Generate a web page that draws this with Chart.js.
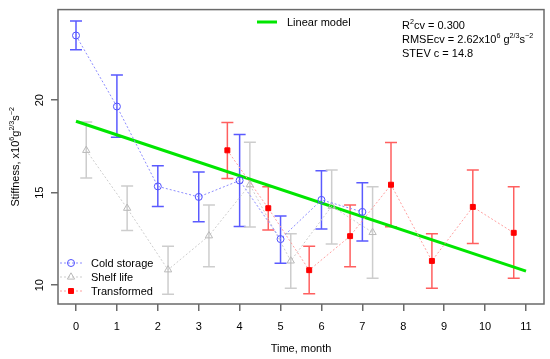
<!DOCTYPE html>
<html>
<head>
<meta charset="utf-8">
<script src="https://cdn.jsdelivr.net/npm/chart.js@4/dist/chart.umd.min.js"></script>
<style>
  html, body { margin: 0; padding: 0; background: #fff; }
  #wrap { width: 550px; height: 359px; }
</style>
</head>
<body>
<div id="wrap"><canvas id="chart" width="550" height="359"></canvas></div>
<script>
// data
const coldX = [0, 1, 2, 3, 4, 5, 6, 7];
const coldY = [23.5, 19.66, 15.34, 14.77, 15.66, 12.49, 14.61, 13.96];
const coldLo = [22.73, 18.0, 14.25, 13.43, 13.17, 11.19, 13.03, 12.39];
const coldHi = [24.29, 21.36, 16.46, 16.12, 18.14, 13.74, 16.18, 15.53];

const shelfX = [0.25, 1.25, 2.25, 3.25, 4.25, 5.25, 6.25, 7.25];
const shelfY = [17.29, 14.16, 10.83, 12.67, 15.43, 11.31, 14.27, 12.85];
const shelfLo = [15.79, 12.96, 9.51, 10.99, 13.14, 9.83, 12.22, 10.37];
const shelfHi = [18.82, 15.36, 12.10, 14.34, 17.73, 12.78, 16.23, 15.32];

const transX = [3.7, 4.7, 5.7, 6.7, 7.7, 8.7, 9.7, 10.7];
const transY = [17.29, 14.16, 10.81, 12.65, 15.43, 11.31, 14.23, 12.83];
const transLo = [15.77, 12.98, 9.53, 10.99, 13.16, 9.83, 12.25, 10.37];
const transHi = [18.80, 15.32, 12.10, 14.34, 17.72, 12.78, 16.23, 15.32];

const fitX = [0, 11];
const fitY = [18.86, 10.76];

const xTicks = [0, 1, 2, 3, 4, 5, 6, 7, 8, 9, 10, 11];
const yTicks = [10, 15, 20];

const FONT = "'Liberation Sans', Arial, Helvetica, sans-serif";
const FS = 11;
const pts = (xs, ys) => xs.map((x, i) => ({ x, y: ys[i] }));

const series = [
  { label: "Cold storage", xs: coldX, ys: coldY, lo: coldLo, hi: coldHi,
    bar: "rgba(90,90,255,1)", line: "rgba(140,140,255,1)", style: "circle",
    fill: "rgba(0,0,0,0)", mark: "rgba(80,80,255,1)", r: 3.5 },
  { label: "Shelf life", xs: shelfX, ys: shelfY, lo: shelfLo, hi: shelfHi,
    bar: "rgba(205,205,205,1)", line: "rgba(205,205,205,1)", style: "triangle",
    fill: "rgba(0,0,0,0)", mark: "rgba(185,185,185,1)", r: 4.2 },
  { label: "Transformed", xs: transX, ys: transY, lo: transLo, hi: transHi,
    bar: "rgba(255,95,95,1)", line: "rgba(255,160,160,1)", style: "rect",
    fill: "#ff0000", mark: "#ff0000", r: 3.5 }
];

const datasets = series.map(s => ({
  label: s.label,
  data: pts(s.xs, s.ys),
  showLine: true,
  borderColor: s.line,
  borderWidth: 1,
  borderDash: [2, 2],
  pointStyle: s.style,
  pointRadius: s.r,
  pointBorderColor: s.mark,
  pointBackgroundColor: s.fill,
  pointBorderWidth: 1
}));
datasets.push({
  label: "Linear model",
  data: pts(fitX, fitY),
  showLine: true,
  borderColor: "#00e600",
  borderWidth: 3,
  pointRadius: 0
});

// superscript text helper
function drawRich(ctx, parts, x, y, size) {
  ctx.textBaseline = "alphabetic";
  ctx.textAlign = "left";
  let cx = x;
  parts.forEach(([t, sup]) => {
    ctx.font = (sup ? size * 0.65 : size) + "px " + FONT;
    ctx.fillText(t, cx, sup ? y - size * 0.42 : y);
    cx += ctx.measureText(t).width;
  });
  return cx - x;
}
function richWidth(ctx, parts, size) {
  let w = 0;
  parts.forEach(([t, sup]) => {
    ctx.font = (sup ? size * 0.65 : size) + "px " + FONT;
    w += ctx.measureText(t).width;
  });
  return w;
}

const errorBars = {
  id: "errorBars",
  beforeDatasetsDraw(chart) {
    const { ctx, scales: { x, y }, chartArea: a } = chart;
    ctx.save();
    ctx.beginPath();
    ctx.rect(a.left, a.top, a.right - a.left, a.bottom - a.top);
    ctx.clip();
    series.forEach(s => {
      ctx.strokeStyle = s.bar;
      ctx.lineWidth = 1.5;
      s.xs.forEach((v, i) => {
        const px = x.getPixelForValue(v);
        const pl = y.getPixelForValue(s.lo[i]);
        const ph = y.getPixelForValue(s.hi[i]);
        ctx.beginPath();
        ctx.moveTo(px, pl); ctx.lineTo(px, ph);
        ctx.moveTo(px - 6, pl); ctx.lineTo(px + 6, pl);
        ctx.moveTo(px - 6, ph); ctx.lineTo(px + 6, ph);
        ctx.stroke();
      });
    });
    ctx.restore();
  }
};

const decor = {
  id: "decor",
  afterDraw(chart) {
    const { ctx, scales: { y }, chartArea: a } = chart;
    ctx.save();
    // box
    ctx.strokeStyle = "#6a6a6a";
    ctx.lineWidth = 1.5;
    ctx.strokeRect(a.left, a.top, a.right - a.left, a.bottom - a.top);

    // y tick labels, rotated like R
    ctx.fillStyle = "#000";
    ctx.font = FS + "px " + FONT;
    ctx.textAlign = "center";
    ctx.textBaseline = "middle";
    yTicks.forEach(v => {
      ctx.save();
      ctx.translate(40, y.getPixelForValue(v));
      ctx.rotate(-Math.PI / 2);
      ctx.fillText(String(v), 0, 0);
      ctx.restore();
    });

    // y title
    const yt = [["Stiffness, x10"], ["6", 1], ["g"], ["2/3", 1], ["s"], ["\u22122", 1]];
    const w = richWidth(ctx, yt, FS);
    ctx.save();
    ctx.translate(19, (a.top + a.bottom) / 2);
    ctx.rotate(-Math.PI / 2);
    drawRich(ctx, yt, -w / 2, 0, FS);
    ctx.restore();

    // stats
    drawRich(ctx, [["R"], ["2", 1], ["cv = 0.300"]], 402, 29, FS);
    drawRich(ctx, [["RMSEcv = 2.62x10"], ["6", 1], [" g"], ["2/3", 1], ["s"], ["\u22122", 1]], 402, 43, FS);
    drawRich(ctx, [["STEV c = 14.8"]], 402, 57, FS);

    // top legend
    ctx.strokeStyle = "#00e600";
    ctx.lineWidth = 3;
    ctx.beginPath();
    ctx.moveTo(257, 22); ctx.lineTo(277, 22);
    ctx.stroke();
    drawRich(ctx, [["Linear model"]], 287, 26, FS);

    // bottom-left legend
    series.forEach((s, i) => {
      const ly = 263 + i * 14;
      ctx.strokeStyle = s.line;
      ctx.lineWidth = 1;
      ctx.setLineDash([2, 2]);
      ctx.beginPath();
      ctx.moveTo(60, ly); ctx.lineTo(82, ly);
      ctx.stroke();
      ctx.setLineDash([]);
      ctx.strokeStyle = s.mark;
      ctx.fillStyle = s.fill;
      Chart.helpers.drawPoint(ctx, { pointStyle: s.style, radius: s.r, borderWidth: 1, rotation: 0 }, 71, ly);
      ctx.fillStyle = "#000";
      drawRich(ctx, [[s.label]], 91, ly + 4, FS);
    });
    ctx.restore();
  }
};

new Chart(document.getElementById("chart"), {
  type: "scatter",
  data: { datasets },
  plugins: [errorBars, decor],
  options: {
    responsive: false,
    animation: false,
    layout: { padding: { top: 7, right: 6, left: 0, bottom: 0 } },
    plugins: { legend: { display: false }, tooltip: { enabled: false } },
    scales: {
      x: {
        type: "linear",
        min: -0.44,
        max: 11.44,
        afterBuildTicks: s => { s.ticks = xTicks.map(v => ({ value: v })); },
        afterFit: s => { s.height = 55; },
        border: { display: false },
        grid: { drawOnChartArea: false, drawTicks: true, tickLength: 7, color: "#6a6a6a", lineWidth: 1.5 },
        ticks: { color: "#000", font: { family: FONT, size: FS }, padding: 9, maxRotation: 0, autoSkip: false },
        title: { display: true, text: "Time, month", color: "#000", font: { family: FONT, size: FS }, padding: { top: 0, bottom: 3 } }
      },
      y: {
        type: "linear",
        min: 8.98,
        max: 24.9,
        afterBuildTicks: s => { s.ticks = yTicks.map(v => ({ value: v })); },
        afterFit: s => { s.width = 58; },
        border: { display: false },
        grid: { drawOnChartArea: false, drawTicks: true, tickLength: 7, color: "#6a6a6a", lineWidth: 1.5 },
        ticks: { color: "rgba(0,0,0,0)", font: { family: FONT, size: FS } }
      }
    }
  }
});
</script>
</body>
</html>
